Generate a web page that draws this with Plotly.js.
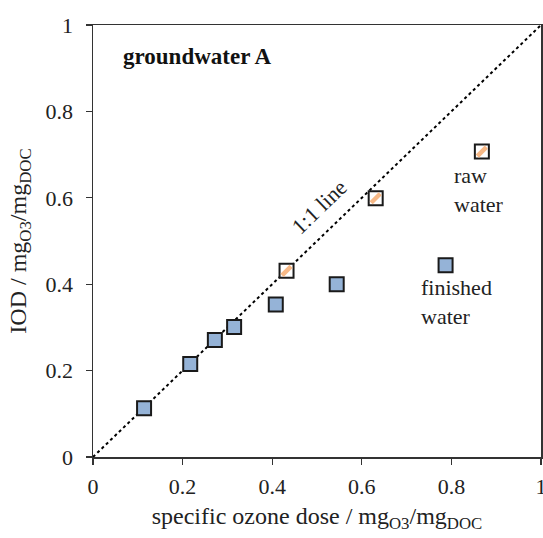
<!DOCTYPE html>
<html>
<head>
<meta charset="utf-8">
<script src="https://cdn.plot.ly/plotly-3.0.1.min.js"></script>
<style>html,body{margin:0;padding:0;background:#fff;}#chart{width:543px;height:538px;}</style>
</head>
<body>
<div id="chart"></div>
<script>
// specific ozone dose (mgO3/mgDOC) vs IOD (mgO3/mgDOC)
const finishedX = [0.114, 0.217, 0.272, 0.315, 0.408, 0.544, 0.787];
const finishedY = [0.113, 0.215, 0.271, 0.301, 0.353, 0.400, 0.444];
const rawX = [0.432, 0.631, 0.868];
const rawY = [0.431, 0.599, 0.707];
const lineX = [0, 1];
const lineY = [0, 1];
const tickVals = [0, 0.2, 0.4, 0.6, 0.8, 1];
const tickText = ["0", "0.2", "0.4", "0.6", "0.8", "1"];

const font = "'Liberation Serif', 'Times New Roman', serif";
const edge = "#1a1a1a";

const traces = [
  {x: lineX, y: lineY, mode: "lines", line: {color: "#000", width: 2, dash: "dot"}, hoverinfo: "skip"},
  {x: finishedX, y: finishedY, mode: "markers",
   marker: {symbol: "square", size: 14, color: "#95b3d7", line: {color: edge, width: 2}}},
  {x: rawX, y: rawY, mode: "markers",
   marker: {symbol: "square", size: 14, color: "#ffffff", line: {color: edge, width: 2}}},
  {x: rawX, y: rawY, mode: "markers",
   marker: {symbol: "line-ne", size: 9, color: "#f7b987", line: {color: "#f7b987", width: 4.5}}}
];

const axisCommon = {
  range: [0, 1], tickvals: tickVals, ticktext: tickText,
  ticks: "outside", ticklen: 6, tickwidth: 1.3, tickcolor: "#333",
  showline: true, linecolor: "#333", linewidth: 1.5, mirror: true,
  showgrid: false, zeroline: false, ticklabeloverflow: "allow",
  tickfont: {family: font, size: 22, color: "#222"}
};

const layout = {
  width: 543, height: 538,
  margin: {l: 93, r: 2, t: 25, b: 81},
  paper_bgcolor: "#fff", plot_bgcolor: "#fff",
  showlegend: false,
  font: {family: font, color: "#222"},
  xaxis: Object.assign({}, axisCommon, {
    ticklabelstandoff: 3,
    title: {text: "specific ozone dose / mg<sub>O3</sub>/mg<sub>DOC</sub>", font: {family: font, size: 24, color: "#222"}, standoff: 9}
  }),
  yaxis: Object.assign({}, axisCommon, {
    ticklabelstandoff: 8,
    title: {text: "IOD / mg<sub>O3</sub>/mg<sub>DOC</sub>", font: {family: font, size: 24, color: "#222"}, standoff: 12}
  }),
  annotations: [
    {x: 0.063, y: 0.926, xref: "x", yref: "y", xanchor: "left", yanchor: "middle", showarrow: false,
     text: "<b>groundwater A</b>", font: {family: font, size: 23, color: "#111"}},
    {x: 0.506, y: 0.579, xref: "x", yref: "y", showarrow: false, textangle: -44,
     text: "1:1 line", font: {family: font, size: 22, color: "#222"}},
    {x: 0.802, y: 0.618, xref: "x", yref: "y", xanchor: "left", yanchor: "middle", showarrow: false, align: "left",
     text: "raw<br>water", font: {family: font, size: 22, color: "#222"}},
    {x: 0.728, y: 0.358, xref: "x", yref: "y", xanchor: "left", yanchor: "middle", showarrow: false, align: "left",
     text: "finished<br>water", font: {family: font, size: 22, color: "#222"}}
  ]
};

Plotly.newPlot("chart", traces, layout, {displayModeBar: false, staticPlot: true});
</script>
</body>
</html>
